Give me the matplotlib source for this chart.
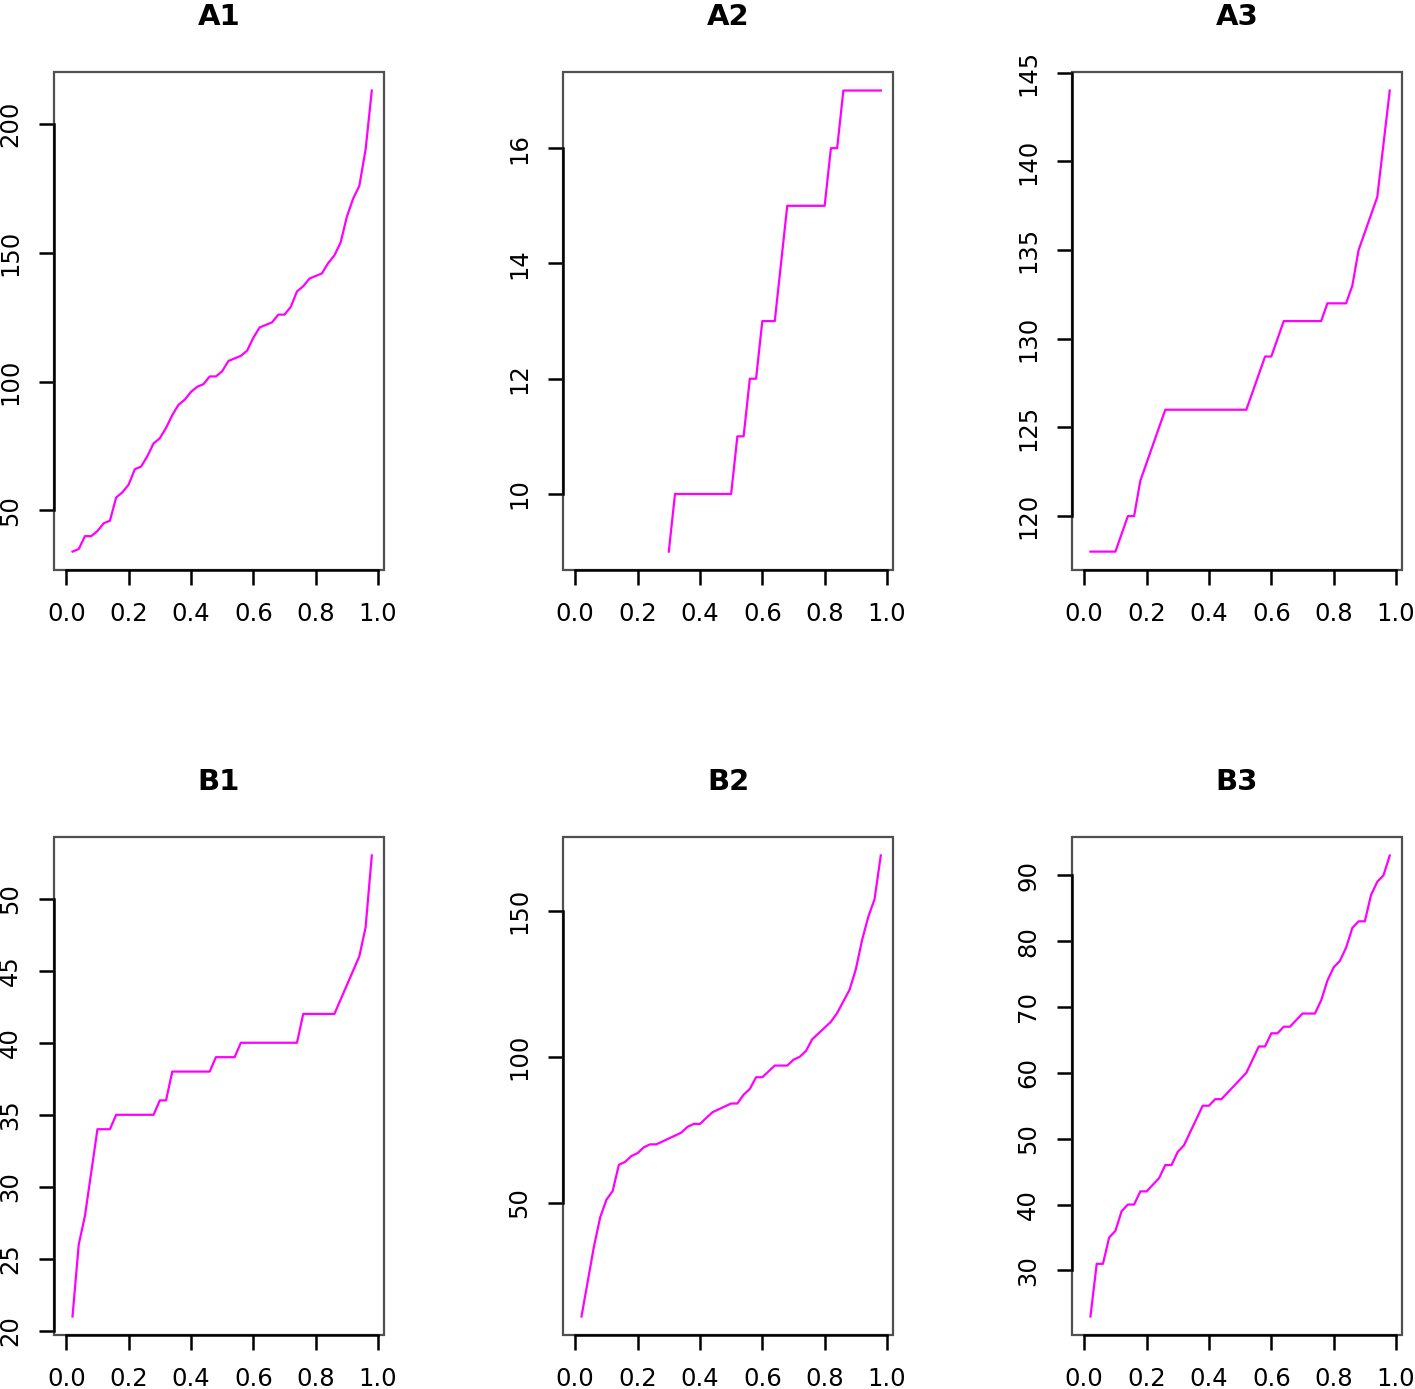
import numpy as np
import matplotlib
matplotlib.use('Agg')
import matplotlib.pyplot as plt
from matplotlib.patches import Rectangle
from matplotlib.ticker import MultipleLocator, FormatStrFormatter

# probability grid (x values) and quantiles per panel
probs = np.linspace(0.02, 0.98, 49)

a1 = [34, 35, 40, 40, 42, 45, 46, 55, 57, 60, 66, 67, 71, 76, 78, 82, 87, 91, 93, 96,
      98, 99, 102, 102, 104, 108, 109, 110, 112, 117, 121, 122, 123, 126, 126, 129, 135, 137, 140, 141,
      142, 146, 149, 154, 164, 171, 176, 190, 213]
a2 = [np.nan] * 14 + [9] + [10] * 10 + [11, 11, 12, 12, 13, 13, 13, 14] + [15] * 7 + [16, 16] + [17] * 7
a3 = [118, 118, 118, 118, 118, 119, 120, 120, 122, 123,
      124, 125, 126, 126, 126, 126, 126, 126, 126, 126,
      126, 126, 126, 126, 126, 126, 127, 128, 129, 129,
      130, 131, 131, 131, 131, 131, 131, 131, 132, 132,
      132, 132, 133, 135, 136, 137, 138, 141, 144]
b1 = [21, 26, 28, 31, 34, 34, 34, 35, 35, 35,
      35, 35, 35, 35, 36, 36, 38, 38, 38, 38,
      38, 38, 38, 39, 39, 39, 39, 40, 40, 40,
      40, 40, 40, 40, 40, 40, 40, 42, 42, 42,
      42, 42, 42, 43, 44, 45, 46, 48, 53]
b2 = [11, 23, 35, 45, 51, 54, 63, 64, 66, 67,
      69, 70, 70, 71, 72, 73, 74, 76, 77, 77,
      79, 81, 82, 83, 84, 84, 87, 89, 93, 93,
      95, 97, 97, 97, 99, 100, 102, 106, 108, 110,
      112, 115, 119, 123, 130, 140, 148, 154, 169]
b3 = [23, 31, 31, 35, 36, 39, 40, 40, 42, 42,
      43, 44, 46, 46, 48, 49, 51, 53, 55, 55,
      56, 56, 57, 58, 59, 60, 62, 64, 64, 66,
      66, 67, 67, 68, 69, 69, 69, 71, 74, 76,
      77, 79, 82, 83, 83, 87, 89, 90, 93]

titles = ["A1", "A2", "A3", "B1", "B2", "B3"]
series = [a1, a2, a3, b1, b2, b3]
ytick_steps = [50, 2, 5, 5, 50, 10]


def r_range(lo, hi):
    # R-style 4% axis extension
    d = (hi - lo) * 0.04
    return lo - d, hi + d


plt.rcParams['font.family'] = 'DejaVu Sans'
fig = plt.figure(figsize=(14.15, 13.89), dpi=100)

lefts = [0.0382, 0.3979, 0.7576]
bottoms = [0.5896, 0.0389]
w, h = 0.2332, 0.3585

for i, (title, y, step) in enumerate(zip(titles, series, ytick_steps)):
    ax = fig.add_axes([lefts[i % 3], bottoms[i // 3], w, h])
    y = np.array(y, dtype=float)
    ax.plot(probs, y, color='#FF00FF', lw=1.6)

    ax.set_xlim(r_range(0.0, 0.98))
    ylo, yhi = r_range(np.nanmin(y), np.nanmax(y))
    ax.set_ylim(ylo, yhi)

    ax.xaxis.set_major_locator(MultipleLocator(0.2))
    ax.xaxis.set_major_formatter(FormatStrFormatter('%.1f'))
    ax.yaxis.set_major_locator(MultipleLocator(step))
    ax.yaxis.set_major_formatter(FormatStrFormatter('%d'))

    xt = [t for t in ax.get_xticks() if -0.04 <= t <= 1.02]
    yt = [t for t in ax.get_yticks() if ylo - 1e-9 <= t <= yhi + 1e-9]

    for s in ['top', 'right']:
        ax.spines[s].set_visible(False)
    ax.spines['left'].set_bounds(yt[0], yt[-1])
    ax.spines['bottom'].set_bounds(xt[0], xt[-1])
    for s in ['left', 'bottom']:
        ax.spines[s].set_color('black')
        ax.spines[s].set_linewidth(1.8)
        ax.spines[s].set_zorder(3)

    ax.add_patch(Rectangle((0, 0), 1, 1, transform=ax.transAxes, fill=False,
                           edgecolor='#505050', lw=1.6, clip_on=False, zorder=2.5))

    ax.tick_params(length=11, width=1.8, pad=12, labelsize=17.5, colors='black')
    for lbl in ax.get_yticklabels():
        lbl.set_rotation(90)
        lbl.set_va('center')

    ax.set_title(title, fontsize=21, fontweight='bold', pad=34)

fig.savefig('out.png', dpi=100)
